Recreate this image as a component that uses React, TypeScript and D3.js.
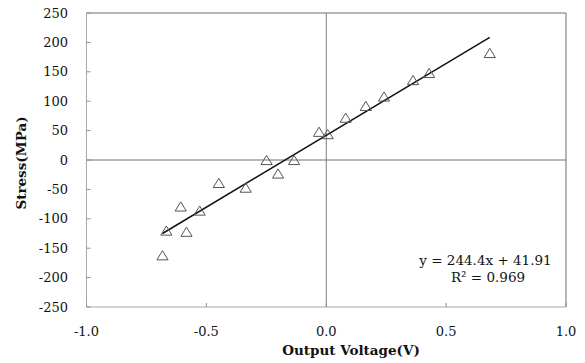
import React from 'react';
import * as d3 from 'd3';

// measured points: output voltage (V) and stress (MPa)
const voltage = [-0.683, -0.667, -0.583, -0.607, -0.528, -0.448, -0.336, -0.249, -0.201, -0.134, -0.03, 0.006, 0.081, 0.165, 0.241, 0.362, 0.429, 0.682];
const stress = [-163, -121, -123, -80, -87, -40, -48, -1, -24, -1, 47, 43, 71, 91, 107, 135, 147, 181];

const yTicks = [250, 200, 150, 100, 50, 0, -50, -100, -150, -200, -250];
const xTicks = [-1.0, -0.5, 0.0, 0.5, 1.0];

const slope = 244.4;
const intercept = 41.91;

const W = 585;
const H = 363;
const margin = { top: 13, right: 19, bottom: 56, left: 86.5 };

export default function App() {
    const x = d3.scaleLinear().domain([-1, 1]).range([margin.left, W - margin.right]);
    const y = d3.scaleLinear().domain([-250, 250]).range([H - margin.bottom, margin.top]);

    const xMin = d3.min(voltage) as number;
    const xMax = d3.max(voltage) as number;
    const trend = d3.line<number>()
        .x((v) => x(v))
        .y((v) => y(slope * v + intercept));

    const tri = 'M0,-5.2L5.6,4L-5.6,4Z';
    const ts = { fontFamily: 'DejaVu Serif, serif' };

    return (
        <svg width={W} height={H} style={{ position: 'absolute', left: 0, top: 0, background: '#fff' }}>
            {/* frame */}
            <line x1={x(-1)} x2={x(1)} y1={y(250)} y2={y(250)} stroke="#6e6e6e" />
            <line x1={x(1)} x2={x(1)} y1={y(250)} y2={y(-250)} stroke="#6e6e6e" />
            <line x1={x(-1)} x2={x(-1)} y1={y(250)} y2={y(-250)} stroke="#a8a8a8" />
            <line x1={x(-1)} x2={x(1)} y1={y(-250)} y2={y(-250)} stroke="#a8a8a8" />
            {/* zero lines */}
            <line x1={x(-1)} x2={x(1)} y1={y(0)} y2={y(0)} stroke="#707070" />
            <line x1={x(0)} x2={x(0)} y1={y(250)} y2={y(-250)} stroke="#808080" />
            {/* ticks */}
            {yTicks.map((t) => (
                <g key={'y' + t}>
                    <line x1={x(-1)} x2={x(-1) + 4} y1={y(t)} y2={y(t)} stroke="#909090" />
                    <text x={68} y={y(t)} dy="0.36em" textAnchor="end" fontSize={13} fill="#111" style={ts}>
                        {t}
                    </text>
                </g>
            ))}
            {xTicks.map((t) => (
                <g key={'x' + t}>
                    <line x1={x(t)} x2={x(t)} y1={y(-250)} y2={y(-250) - 4} stroke="#909090" />
                    <text x={x(t)} y={336} textAnchor="middle" fontSize={13} fill="#111" style={ts}>
                        {t.toFixed(1)}
                    </text>
                </g>
            ))}
            {/* trendline */}
            <path d={trend([xMin, xMax]) || ''} fill="none" stroke="#111" strokeWidth={1.5} />
            {/* markers */}
            {voltage.map((v, i) => (
                <path key={i} d={tri} transform={`translate(${x(v)},${y(stress[i])})`} fill="none" stroke="#555" strokeWidth={1} />
            ))}
            {/* equation */}
            <text x={485.5} y={265} textAnchor="middle" fontSize={13.5} fill="#111" style={ts}>
                y = 244.4x + 41.91
            </text>
            <text x={488} y={282} textAnchor="middle" fontSize={13.5} fill="#111" style={ts}>
                R² = 0.969
            </text>
            {/* axis titles */}
            <text x={351} y={355} textAnchor="middle" fontSize={13.5} fontWeight="bold" fill="#111" style={ts}>
                Output Voltage(V)
            </text>
            <text transform="translate(26,163) rotate(-90)" textAnchor="middle" fontSize={13.5} fontWeight="bold" fill="#111" style={ts}>
                Stress(MPa)
            </text>
        </svg>
    );
}
